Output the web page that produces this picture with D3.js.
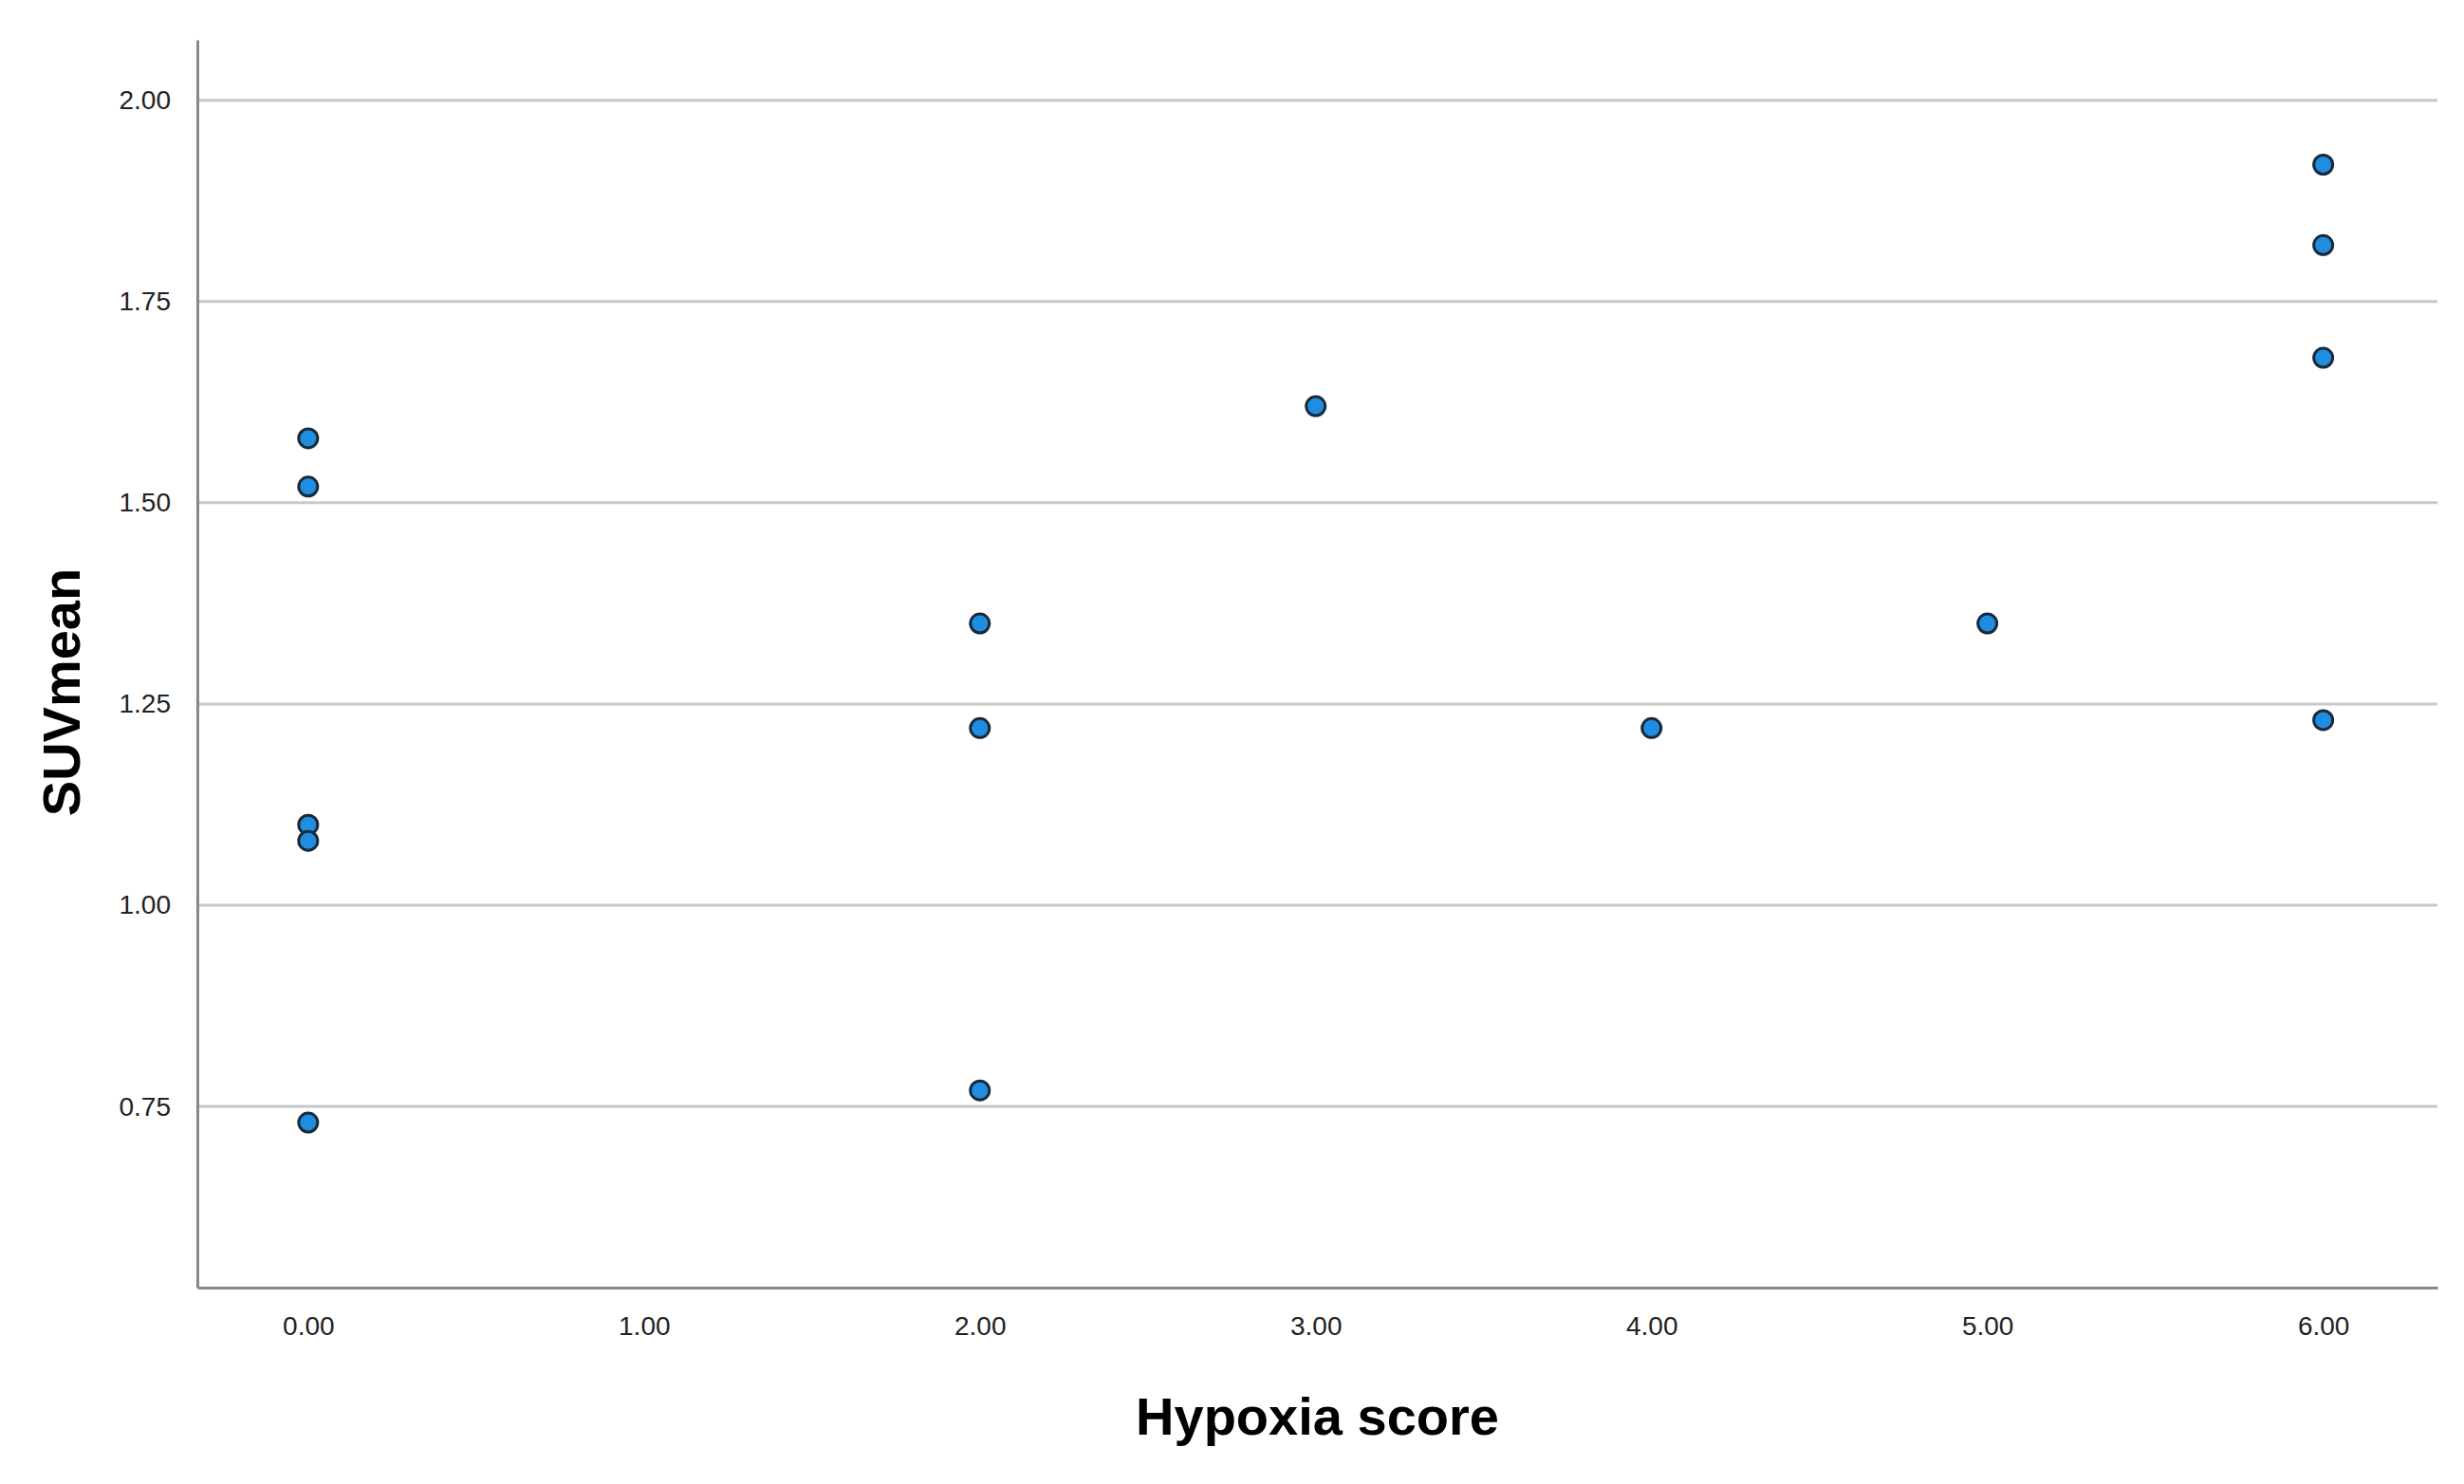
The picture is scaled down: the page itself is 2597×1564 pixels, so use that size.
<!DOCTYPE html>
<html lang="en">
  <head>
    <meta charset="UTF-8" />
    <title>SUVmean vs Hypoxia score</title>
    <style>
      body { margin: 0; background: #fff; }
      svg { display: block; font-family: "Liberation Sans", Arial, sans-serif; }
    </style>
  </head>
  <body>
    <svg></svg>
    <script src="https://d3js.org/d3.v7.min.js"></script>
    <script>
      // Data
      const hypoxiaScore = [0, 0, 0, 0, 0, 2, 2, 2, 3, 4, 5, 6, 6, 6, 6];
      const suvMean = [1.58, 1.52, 1.10, 1.08, 0.73, 1.35, 1.22, 0.77, 1.62, 1.22, 1.35, 1.92, 1.82, 1.68, 1.23];
      const xTicks = [0, 1, 2, 3, 4, 5, 6];
      const yTicks = [0.75, 1.0, 1.25, 1.5, 1.75, 2.0];

      const w = 2597;
      const h = 1564;
      const padLeft = 208, padRight = 2569, padTop = 42, padBottom = 1357;

      const svg = d3.select("svg").attr("width", w).attr("height", h);

      const xScale = d3.scaleLinear().domain([-0.33, 6.34]).range([padLeft, padRight]);
      const yScale = d3.scaleLinear().domain([0.525, 2.075]).range([padBottom, padTop]);

      // Grid lines
      svg.append("g")
        .selectAll("line")
        .data(yTicks)
        .enter()
        .append("line")
        .attr("x1", padLeft)
        .attr("x2", padRight)
        .attr("y1", (d) => yScale(d))
        .attr("y2", (d) => yScale(d))
        .attr("stroke", "#c8c8c8")
        .attr("stroke-width", 3);

      // Axes
      const xAxis = d3.axisBottom(xScale).tickValues(xTicks).tickFormat(d3.format(".2f")).tickSize(0).tickPadding(30);
      const yAxis = d3.axisLeft(yScale).tickValues(yTicks).tickFormat(d3.format(".2f")).tickSize(0).tickPadding(28);

      const gx = svg.append("g").attr("transform", `translate(0,${padBottom})`).call(xAxis);
      const gy = svg.append("g").attr("transform", `translate(${padLeft},0)`).call(yAxis);
      [gx, gy].forEach((g) => {
        g.select(".domain").attr("stroke", "#888").attr("stroke-width", 3);
        g.selectAll("text").attr("font-size", 28).attr("fill", "#222").attr("font-family", "Liberation Sans, Arial, sans-serif");
      });

      // Axis titles
      svg.append("text")
        .attr("x", (padLeft + padRight) / 2)
        .attr("y", 1512)
        .attr("text-anchor", "middle")
        .attr("font-size", 56)
        .attr("font-weight", "bold")
        .text("Hypoxia score");

      svg.append("text")
        .attr("transform", `translate(84,${(padTop + padBottom) / 2 + 30}) rotate(-90)`)
        .attr("text-anchor", "middle")
        .attr("font-size", 56)
        .attr("font-weight", "bold")
        .text("SUVmean");

      // Points
      svg.append("g")
        .selectAll("circle")
        .data(hypoxiaScore.map((x, i) => [x, suvMean[i]]))
        .enter()
        .append("circle")
        .attr("cx", (d) => xScale(d[0]))
        .attr("cy", (d) => yScale(d[1]))
        .attr("r", 10)
        .attr("fill", "#1f8ee0")
        .attr("stroke", "#1a2a3a")
        .attr("stroke-width", 3);
    </script>
  </body>
</html>
